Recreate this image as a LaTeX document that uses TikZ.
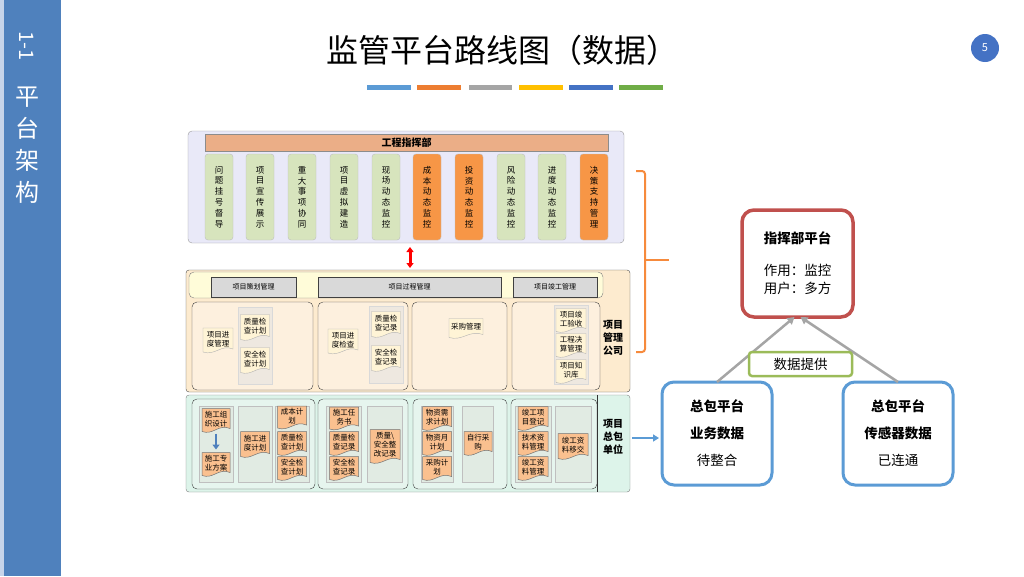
\documentclass[tikz,border=0pt]{standalone}
\usepackage{fontspec}
\setmainfont{Noto Sans CJK SC}
\usetikzlibrary{arrows.meta,calc}
\definecolor{sidebar}{HTML}{4F81BD}
\definecolor{sidelight}{HTML}{C6D4EA}
\definecolor{barA}{HTML}{5B9BD5}
\definecolor{barB}{HTML}{ED7D31}
\definecolor{barC}{HTML}{A5A5A5}
\definecolor{barD}{HTML}{FFC000}
\definecolor{barE}{HTML}{4472C4}
\definecolor{barF}{HTML}{70AD47}
\definecolor{lav}{HTML}{E9E9F8}
\definecolor{salmon}{HTML}{EBAE87}
\definecolor{gcol}{HTML}{D7E4BD}
\definecolor{ocol}{HTML}{F79646}
\definecolor{pmfill}{HTML}{FDEBCF}
\definecolor{hdrrow}{HTML}{FFFCD9}
\definecolor{grayhdr}{HTML}{D9D9D9}
\definecolor{msec}{HTML}{FDF0DE}
\definecolor{mcol}{HTML}{EEE8E0}
\definecolor{mdoc}{HTML}{FFF4D6}
\definecolor{pbfill}{HTML}{DDF4EA}
\definecolor{bsec}{HTML}{E6F5EE}
\definecolor{bcol}{HTML}{E1EBE3}
\definecolor{bdoc}{HTML}{FAC08F}
\definecolor{redb}{HTML}{C0504D}
\definecolor{blueb}{HTML}{5B9BD5}
\definecolor{greenb}{HTML}{9BBB59}
\definecolor{brace}{HTML}{F68A3C}
\definecolor{arrgray}{HTML}{A5A5A5}
\newcommand\docbox[7]{%
  \path[#6] (#2-#4/2,#3-#5/2) -- (#2+#4/2,#3-#5/2) -- (#2+#4/2,#3+#5/2-3)
    .. controls (#2+#4/10,#3+#5/2-8) and (#2-#4/10,#3+#5/2+4) .. (#2-#4/2,#3+#5/2) -- cycle;
  \node[doctext, minimum width=#4, minimum height=#5] (#1) at (#2,#3-1) {#7};}
\begin{document}
\begin{tikzpicture}[x=1pt,y=-1pt,
  every node/.style={inner sep=0pt, outer sep=0pt},
  colbox/.style={draw=black!25, rounded corners=3, minimum width=28, minimum height=86, align=center, font=\fontsize{8.5}{10.8}\selectfont},
  panelbox/.style={rounded corners=4},
  hdrbox/.style={fill=grayhdr, draw=black!75, minimum height=20, font=\fontsize{7}{8}\selectfont},
  msecbox/.style={fill=msec, draw=black!75, rounded corners=5, minimum height=88},
  mcolbox/.style={fill=mcol, draw=black!15, minimum width=34},
  bsecbox/.style={fill=bsec, draw=black!75, rounded corners=5, minimum height=90},
  bcolbox/.style={fill=bcol, draw=black!25, minimum height=76},
  mdocst/.style={fill=mdoc, draw=black!30, line width=0.4},
  bdocst/.style={fill=bdoc, draw=black!55, line width=0.5},
  doctext/.style={align=center, font=\fontsize{7.5}{9}\selectfont},
  sidelabel/.style={align=center, font=\bfseries\fontsize{10}{13}\selectfont},
  platbox/.style={rounded corners=12, minimum width=110, minimum height=103, align=center, fill=white, font=\fontsize{13.5}{27}\selectfont},
  flowarrow/.style={draw=arrgray, line width=2.5, -{Triangle[width=8pt,length=7pt]}}
]
\useasboundingbox (0,0) rectangle (1024,576);
% sidebar
\fill[sidebar] (0,0) rectangle (61,576);
\fill[sidelight] (0,0) rectangle (3.5,576);
\node[text=white, rotate=-90, font=\fontsize{20}{20}\selectfont] (sidenum) at (27,46) {1-1};
\node[text=white, align=center, font=\fontsize{24}{32}\selectfont] (sidetitle) at (28,145) {平\\台\\架\\构};
% title
\node[font=\fontsize{32}{32}\selectfont] (title) at (502,50) {监管平台路线图（数据）};
\fill[barA] (367,85) rectangle (411,89.5);
\fill[barB] (417,85) rectangle (461,89.5);
\fill[barC] (469,85) rectangle (512,89.5);
\fill[barD] (519,85) rectangle (563,89.5);
\fill[barE] (569,85) rectangle (613,89.5);
\fill[barF] (619,85) rectangle (663,89.5);
\node[circle, fill=barE, minimum size=28, text=white, font=\fontsize{11}{11}\selectfont] (page) at (985,48) {5};
% ===== top panel =====
\node[panelbox, fill=lav, draw=black!40, minimum width=436, minimum height=112] (cmd) at (406,187) {};
\node[fill=salmon, draw=black!45, minimum width=403, minimum height=17, font=\bfseries\fontsize{10}{10}\selectfont] (cmdhdr) at (406.5,142.5) {工程指挥部};
\foreach \i/\x/\t/\c in {1/219/{问\\题\\挂\\号\\督\\导}/gcol, 2/260/{项\\目\\宣\\传\\展\\示}/gcol, 3/302/{重\\大\\事\\项\\协\\同}/gcol, 4/344/{项\\目\\虚\\拟\\建\\造}/gcol, 5/386/{现\\场\\动\\态\\监\\控}/gcol, 6/427/{成\\本\\动\\态\\监\\控}/ocol, 7/469/{投\\资\\动\\态\\监\\控}/ocol, 8/511/{风\\险\\动\\态\\监\\控}/gcol, 9/552/{进\\度\\动\\态\\监\\控}/gcol, 10/594/{决\\策\\支\\持\\管\\理}/ocol}
  \node[colbox, fill=\c] (t\i) at (\x,197) {\t};
% ===== middle panel =====
\node[fill=pmfill, draw=black!70, rounded corners=3, minimum width=444, minimum height=122] (pm) at (408,331) {};
\node[fill=hdrrow, draw=black!50, rounded corners=5, minimum width=414, minimum height=26] (pmrow) at (396,285) {};
\node[hdrbox, minimum width=85] (h1) at (253.5,287) {项目策划管理};
\node[hdrbox, minimum width=183] (h2) at (409.5,287) {项目过程管理};
\node[hdrbox, minimum width=84] (h3) at (555,287) {项目竣工管理};
\node[msecbox, minimum width=121] (ms1) at (252.5,346) {};
\node[msecbox, minimum width=90] (ms2) at (363,346) {};
\node[msecbox, minimum width=95] (ms3) at (459.5,346) {};
\node[msecbox, minimum width=88] (ms4) at (556,346) {};
\node[sidelabel] (pmlabel) at (613,338) {项目\\管理\\公司};
\docbox{md1}{218}{340}{30}{24}{mdocst}{项目进\\度管理}
\node[mcolbox, minimum height=77] (mc1) at (255,346) {};
\docbox{md2}{255}{327}{29}{25}{mdocst}{质量检\\查计划}
\docbox{md3}{255}{360}{29}{25}{mdocst}{安全检\\查计划}
\docbox{md4}{343}{341}{30}{24}{mdocst}{项目进\\度检查}
\node[mcolbox, minimum height=77] (mc2) at (386,345) {};
\docbox{md5}{386}{324}{29}{25}{mdocst}{质量检\\查记录}
\docbox{md6}{386}{358}{29}{25}{mdocst}{安全检\\查记录}
\docbox{md7}{466}{328}{34}{19}{mdocst}{采购管理}
\node[mcolbox, minimum height=79] (mc4) at (571,345) {};
\docbox{md8}{571}{320}{30}{23}{mdocst}{项目竣\\工验收}
\docbox{md9}{571}{345}{30}{23}{mdocst}{工程决\\算管理}
\docbox{md10}{571}{371}{30}{23}{mdocst}{项目知\\识库}
% ===== bottom panel =====
\node[fill=pbfill, draw=black!50, rounded corners=3, minimum width=444, minimum height=97] (pb) at (408,443.5) {};
\node[bsecbox, minimum width=123] (bs1) at (253.5,444) {};
\node[bsecbox, minimum width=90] (bs2) at (363,444) {};
\node[bsecbox, minimum width=94] (bs3) at (460,444) {};
\node[bsecbox, minimum width=86] (bs4) at (554,444) {};
\draw[black!80, line width=0.6] (bs4.east |- pb.north) -- (bs4.east |- pb.south);
\node[sidelabel] (pblabel) at (613,437) {项目\\总包\\单位};
\node[bcolbox, minimum width=34] (bc1) at (216,444) {};
\node[bcolbox, minimum width=34] (bc2) at (255,444) {};
\node[bcolbox, minimum width=34] (bc3) at (292,444) {};
\node[bcolbox, minimum width=35] (bc4) at (344,444) {};
\node[bcolbox, minimum width=35] (bc5) at (385,444) {};
\node[bcolbox, minimum width=32] (bc6) at (437,444) {};
\node[bcolbox, minimum width=31] (bc7) at (478,444) {};
\node[bcolbox, minimum width=36] (bc8) at (533,444) {};
\node[bcolbox, minimum width=36] (bc9) at (573,444) {};
\docbox{bd1}{216}{420}{28}{23}{bdocst}{施工组\\织设计}
\docbox{bd2}{216}{464}{28}{23}{bdocst}{施工专\\业方案}
\draw[draw=sidebar, line width=2.2, -{Triangle[width=7pt,length=5pt]}, shorten <=3pt, shorten >=2pt] (bd1) -- (bd2);
\docbox{bd3}{255}{444}{29}{25}{bdocst}{施工进\\度计划}
\docbox{bd4}{292}{417}{29}{22}{bdocst}{成本计\\划}
\docbox{bd5}{292}{443}{29}{23}{bdocst}{质量检\\查计划}
\docbox{bd6}{292}{468}{29}{23}{bdocst}{安全检\\查计划}
\docbox{bd7}{344}{418}{29}{22}{bdocst}{施工任\\务书}
\docbox{bd8}{344}{443}{29}{23}{bdocst}{质量检\\查记录}
\docbox{bd9}{344}{468}{29}{23}{bdocst}{安全检\\查记录}
\docbox{bd10}{385}{446}{30}{33}{bdocst}{质量\textbackslash\\安全整\\改记录}
\docbox{bd11}{437}{418}{29}{23}{bdocst}{物资需\\求计划}
\docbox{bd12}{437}{443}{29}{23}{bdocst}{物资月\\计划}
\docbox{bd13}{437}{468}{29}{23}{bdocst}{采购计\\划}
\docbox{bd14}{478}{443}{28}{23}{bdocst}{自行采\\购}
\docbox{bd15}{533}{418}{30}{23}{bdocst}{竣工项\\目登记}
\docbox{bd16}{533}{443}{30}{23}{bdocst}{技术资\\料管理}
\docbox{bd17}{533}{468}{30}{23}{bdocst}{竣工资\\料管理}
\docbox{bd18}{573}{446}{30}{25}{bdocst}{竣工资\\料移交}
% red double arrow between panels
\draw[draw=red, line width=3, {Triangle[width=7pt,length=5pt]}-{Triangle[width=7pt,length=5pt]}] ($(cmd.south)+(4,4)$) -- ($(pm.north)+(2,-2)$);
% ===== right side =====
\coordinate (braceTop) at (636,171);
\coordinate (braceBot) at (636,352);
\coordinate (braceTip) at (669,260);
\draw[draw=brace, line width=2, rounded corners=3] (braceTop) -- (645,171) -- (645,352) -- (braceBot);
\draw[draw=brace, line width=2] (645,260) -- (braceTip);
\node[platbox, draw=redb, line width=3.5, minimum width=111, minimum height=107, font=\fontsize{13.5}{18}\selectfont] (hq) at (797.5,263.5) {\textbf{指挥部平台}\\[14pt]作用：监控\\用户：多方};
\node[platbox, draw=blueb, line width=3] (bl) at (717,433.5) {\textbf{总包平台}\\\textbf{业务数据}\\待整合};
\node[platbox, draw=blueb, line width=3] (br) at (898,433.5) {\textbf{总包平台}\\\textbf{传感器数据}\\已连通};
\draw[flowarrow] (bl.north) -- ([xshift=-3pt]hq.south);
\draw[flowarrow] (br.north) -- ([xshift=3pt]hq.south);
\node[draw=greenb, line width=2.5, fill=white, rounded corners=3, minimum width=103, minimum height=24, font=\fontsize{13.5}{14}\selectfont] (provide) at (800.5,364) {数据提供};
\draw[draw=blueb, line width=2, -{Triangle[width=7pt,length=6pt]}] ([xshift=2pt,yshift=5.5pt]pb.east) -- ([xshift=-3pt,yshift=-4.5pt]bl.west);
\end{tikzpicture}
\end{document}
